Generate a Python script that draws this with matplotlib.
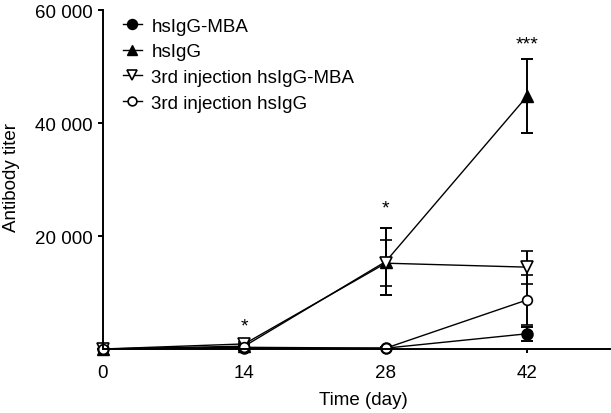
import matplotlib.pyplot as plt

plt.rcParams['font.family'] = ['Liberation Sans', 'DejaVu Sans']
plt.rcParams['font.size'] = 13.5

# data
days = [0, 14, 28, 42]

mba = [0, 100, 150, 2700]
mba_err = [0, 200, 200, 1250]

higg = [0, 500, 15500, 44800]
higg_err = [0, 300, 5900, 6600]

inj_mba = [0, 900, 15200, 14500]
inj_mba_err = [0, 400, 4100, 2900]

inj_higg = [0, 300, 150, 8700]
inj_higg_err = [0, 200, 200, 4400]

sig_days = [14, 28, 42]
sig_y = [4000, 25000, 54100]
sig_labels = ['*', '*', '***']

yticks = [20000, 40000, 60000]
xticks = [0, 14, 28, 42]

fig = plt.figure(figsize=(6.11, 4.14), dpi=100)
ax = fig.add_axes([103 / 611, 64 / 414, 507 / 611, 338.7 / 414])

common = dict(color='black', lw=1.0, elinewidth=1.4, capsize=4.5, capthick=1.4,
              clip_on=False, ms=8)

c1 = ax.errorbar(days, mba, yerr=mba_err, marker='o', mfc='black', mec='black', **common)
c2 = ax.errorbar(days, higg, yerr=higg_err, marker='^', mfc='black', mec='black', **common)
c3 = ax.errorbar(days, inj_mba, yerr=inj_mba_err, marker='v', mfc='white', mec='black',
                 mew=1.2, **common)
c4 = ax.errorbar(days, inj_higg, yerr=inj_higg_err, marker='o', mfc='white', mec='black',
                 mew=1.2, **{**common, 'ms': 7})

for d, y, s in zip(sig_days, sig_y, sig_labels):
    ax.text(d, y, s, ha='center', va='center', fontsize=14)

ax.set_xlim(0.3, 50.2)
ax.set_ylim(0, 60000)

ax.set_xticks(xticks)
ax.set_yticks(yticks)
ax.set_yticklabels([f'{v:,.0f}'.replace(',', ' ') for v in yticks])

for side in ['top', 'right']:
    ax.spines[side].set_visible(False)
for side in ['left', 'bottom']:
    ax.spines[side].set_linewidth(1.4)

ax.tick_params(axis='y', length=3.5, width=1.4, pad=4)
ax.tick_params(axis='x', length=3, width=1.4, pad=7.5)

ax.set_xlabel('Time (day)')
ax.set_ylabel('Antibody titer')
ax.xaxis.set_label_coords(0.513, -0.125)
ax.yaxis.set_label_coords(-0.164, 0.51)

labels = ['hsIgG-MBA', 'hsIgG', '3rd injection hsIgG-MBA', '3rd injection hsIgG']
ax.legend([c[0] for c in (c1, c2, c3, c4)], labels,
          loc='upper left', bbox_to_anchor=(0.039, 0.978), frameon=False,
          handlelength=1.0, handletextpad=0.53, borderaxespad=0, borderpad=0,
          labelspacing=0.45, fontsize=13.5, markerscale=0.9)

fig.savefig('out.png', dpi=100)
